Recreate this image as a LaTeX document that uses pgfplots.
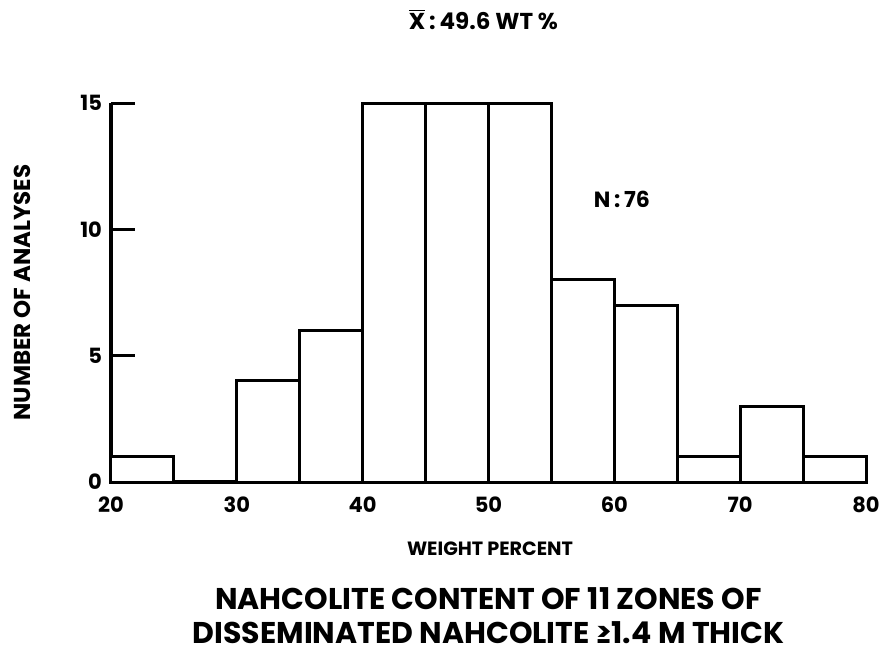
\documentclass[border=0pt]{standalone}
\usepackage{fontspec}
\setmainfont{Poppins}
\usepackage{pgfplots}
\pgfplotsset{compat=1.18}
\begin{document}
\begin{tikzpicture}
\useasboundingbox (-55.5pt,-86.5pt) rectangle (385pt,241pt);
\begin{axis}[
  at={(0,0)}, anchor=south west,
  scale only axis, width=377.5pt, height=189.5pt,
  xmin=20, xmax=80, ymin=0, ymax=15,
  axis lines=left, axis line style={-, line width=2pt, black},
  xtick={20,30,...,80}, ytick={0,5,10,15},
  x tick style={draw=none},
  y tick style={line width=1.5pt, black},
  major tick length=12pt, tick align=inside,
  tick label style={font=\bfseries\fontsize{10.5}{12}\selectfont},
  xticklabel style={yshift=-4pt},
  yticklabel style={xshift=-1pt},
  /pgf/number format/assume math mode=true,
  clip=false,
]
\addplot[ybar interval, draw=black, fill=white, line width=1.5pt] coordinates {
(20,1) (25,0) (30,4) (35,6) (40,15) (45,15) (50,15) (55,8) (60,7) (65,1) (70,3) (75,1) (80,1)};
\node[font=\bfseries\fontsize{11}{12}\selectfont] at (axis cs:60.6,11.2) {N\,:\,76};
\node[font=\bfseries\fontsize{11.5}{12}\selectfont] at (axis cs:49.6,18.3) {$\overline{\hbox{X}}$\,:\,49.6 WT \%};
\node[font=\bfseries\fontsize{9.6}{11}\selectfont] at (rel axis cs:0.502,0) [yshift=-33.5pt] {WEIGHT PERCENT};
\node[font=\bfseries\fontsize{15}{17}\selectfont] at (rel axis cs:0.5,0) [yshift=-58.5pt] {NAHCOLITE CONTENT OF 11 ZONES OF};
\node[font=\bfseries\fontsize{15}{17}\selectfont] at (rel axis cs:0.5,0) [yshift=-75.5pt] {DISSEMINATED NAHCOLITE ≥1.4 M THICK};
\path (rel axis cs:0,0.5) ++(-44.5pt,0pt) node[font=\bfseries\fontsize{11.5}{13}\selectfont, rotate=90] {NUMBER OF ANALYSES};
\end{axis}
\end{tikzpicture}
\end{document}
